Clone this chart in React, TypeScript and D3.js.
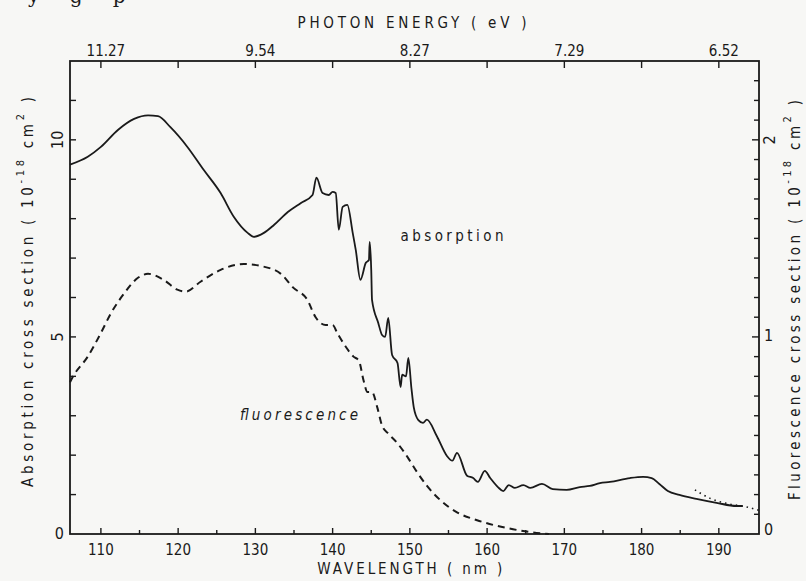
import * as d3 from 'd3';

// absorption cross section (10^-18 cm^2), solid line
const absWavelength = [
	106.0, 108.3, 110.0, 112.2, 114.3, 116.1, 117.4, 119.0, 121.2, 123.3, 125.5, 127.2, 129.0, 129.8,
	131.1, 132.4, 134.2, 135.9, 137.4, 137.9, 138.7, 139.5, 140.0, 140.4, 140.8, 141.3, 141.9, 142.6,
	143.0, 143.6, 144.3, 144.7, 144.8, 145.0, 145.1, 145.9, 146.4, 146.8, 147.2, 147.7, 148.4, 148.8,
	149.0, 149.5, 149.8, 150.2, 150.5, 151.1, 151.7, 152.2, 153.5, 154.8, 155.5, 156.1, 157.4, 158.2,
	158.8, 159.7, 160.4, 161.4, 162.1, 162.8, 163.6, 164.7, 165.6, 167.1, 168.5, 170.3, 172.0, 173.3,
	174.6, 175.9, 178.5, 180.2, 181.3, 182.3, 183.4, 184.9, 187.1, 189.7, 192.3, 193.1,
];
const absValue = [
	9.37, 9.57, 9.82, 10.25, 10.53, 10.62, 10.6, 10.32, 9.82, 9.24, 8.65, 8.05, 7.64, 7.54,
	7.64, 7.84, 8.17, 8.4, 8.6, 9.04, 8.65, 8.6, 8.68, 8.65, 7.72, 8.3, 8.35, 7.64,
	7.2, 6.45, 6.88, 6.95, 7.41, 6.7, 5.94, 5.36, 5.05, 5.0, 5.48, 4.54, 4.34, 3.73,
	4.04, 4.0, 4.47, 3.7, 3.22, 2.89, 2.82, 2.9, 2.48, 1.98, 1.86, 2.06, 1.48, 1.42,
	1.32, 1.6, 1.42, 1.19, 1.09, 1.24, 1.17, 1.24, 1.17, 1.27, 1.14, 1.12, 1.19, 1.22,
	1.29, 1.32, 1.42, 1.45, 1.42, 1.27, 1.09, 0.99, 0.89, 0.79, 0.71, 0.71,
];

// dotted extension of the absorption curve
const absDotWavelength = [186.9, 188.8, 191.4, 193.5, 195.2];
const absDotValue = [1.12, 0.91, 0.76, 0.69, 0.6];

// fluorescence cross section (10^-18 cm^2), dashed line, right axis
const fluWavelength = [
	106.0, 106.4, 108.3, 110.0, 111.3, 113.0, 114.8, 116.1, 118.1, 119.9, 121.0, 122.9, 125.5, 128.5,
	130.7, 133.3, 134.9, 136.7, 137.8, 139.1, 140.0, 140.6, 141.7, 142.7, 143.4, 144.0, 144.5, 145.1,
	145.8, 146.4, 147.2, 148.4, 149.7, 151.0, 152.3, 154.0, 156.1, 158.7, 160.8, 162.6, 165.6, 168.0,
];
const fluValue = [
	0.77, 0.8, 0.9, 1.02, 1.12, 1.22, 1.3, 1.32, 1.29, 1.24, 1.23, 1.28, 1.34, 1.37,
	1.36, 1.32, 1.25, 1.19, 1.1, 1.06, 1.06, 1.02, 0.95, 0.9, 0.88, 0.78, 0.72, 0.72,
	0.64, 0.55, 0.51, 0.46, 0.39, 0.31, 0.24, 0.17, 0.11, 0.07, 0.046, 0.03, 0.01, 0.0,
];

const bottomTicks = [110, 120, 130, 140, 150, 160, 170, 180, 190];
const topTickWavelength = [110, 130, 150, 170, 190];
const topTickLabels = ['11.27', '9.54', '8.27', '7.29', '6.52'];
const leftLabels = [0, 5, 10];
const rightLabels = [0, 1, 2];

const svgWidth = 806,
	svgHeight = 581;
const margin = { left: 70, right: 47, top: 61, bottom: 47 };
const innerWidth = svgWidth - margin.left - margin.right;
const innerHeight = svgHeight - margin.top - margin.bottom;

const font = "'Liberation Sans Narrow', 'DejaVu Sans Condensed', 'Liberation Sans', sans-serif";
const ink = '#1a1a1a';

export default function App() {
	const xScale = d3.scaleLinear().domain([106, 195.2]).range([0, innerWidth]);
	const yLeft = d3.scaleLinear().domain([0, 12]).range([innerHeight, 0]);
	const yRight = d3.scaleLinear().domain([0, 2.4]).range([innerHeight, 0]);

	const absLine = d3
		.line<number>()
		.x((d, i) => xScale(absWavelength[i]))
		.y((d) => yLeft(d))
		.curve(d3.curveMonotoneX);
	const dotLine = d3
		.line<number>()
		.x((d, i) => xScale(absDotWavelength[i]))
		.y((d) => yLeft(d))
		.curve(d3.curveMonotoneX);
	const fluLine = d3
		.line<number>()
		.x((d, i) => xScale(fluWavelength[i]))
		.y((d) => yRight(d))
		.curve(d3.curveMonotoneX);

	const minorBottom = d3.range(110, 195, 5);
	const leftTicks = d3.range(1, 12, 1);
	const rightTicks = d3.range(1, 24, 1).map((d) => d / 10);

	return (
		<svg
			width={svgWidth}
			height={svgHeight}
			viewBox={`0 0 ${svgWidth} ${svgHeight}`}
			style={{ position: 'absolute', left: 0, top: 0 }}
			fontFamily={font}
		>
			<rect width={svgWidth} height={svgHeight} fill="#f7f7f5" />
			{/* cut-off line of the scanned page above the figure */}
			<text x={28} y={3} fontFamily="'DejaVu Serif', serif" fontSize={20} fill={ink} letterSpacing={12}>
				y g p
			</text>
			<text
				x={412}
				y={28}
				textAnchor="middle"
				fontSize={15}
				fill={ink}
				textLength={229}
				lengthAdjust="spacing"
			>
				PHOTON ENERGY ( eV )
			</text>

			<g transform={`translate(${margin.left}, ${margin.top})`}>
				{/* frame */}
				<rect width={innerWidth} height={innerHeight} fill="none" stroke={ink} strokeWidth={1.8} />

				{/* bottom axis */}
				{minorBottom.map((d) => (
					<line
						key={'b' + d}
						x1={xScale(d)}
						x2={xScale(d)}
						y1={innerHeight}
						y2={innerHeight - (d % 10 === 0 ? 6 : 4)}
						stroke={ink}
						strokeWidth={1.4}
					/>
				))}
				{bottomTicks.map((d) => (
					<text
						key={'bl' + d}
						x={xScale(d)}
						y={innerHeight + 21}
						textAnchor="middle"
						fontSize={15}
						fill={ink}
					>
						{d}
					</text>
				))}
				<text
					x={xScale(150)}
					y={innerHeight + 40}
					textAnchor="middle"
					fontSize={15}
					fill={ink}
					textLength={185}
					lengthAdjust="spacing"
				>
					WAVELENGTH ( nm )
				</text>

				{/* top axis */}
				{bottomTicks.map((d) => (
					<line
						key={'t' + d}
						x1={xScale(d)}
						x2={xScale(d)}
						y1={0}
						y2={7}
						stroke={ink}
						strokeWidth={1.4}
					/>
				))}
				{topTickWavelength.map((d, i) => (
					<text
						key={'tl' + d}
						x={xScale(d) + 5}
						y={-5}
						textAnchor="middle"
						fontSize={15}
						fill={ink}
					>
						{topTickLabels[i]}
					</text>
				))}

				{/* left axis */}
				{leftTicks.map((d) => (
					<line
						key={'l' + d}
						x1={0}
						x2={6}
						y1={yLeft(d)}
						y2={yLeft(d)}
						stroke={ink}
						strokeWidth={1.4}
					/>
				))}
				{leftLabels.map((d) =>
					d === 0 ? (
						<text
							key={'ll' + d}
							x={-6}
							y={yLeft(d)}
							textAnchor="end"
							dominantBaseline="middle"
							fontSize={16}
							fill={ink}
						>
							{d}
						</text>
					) : (
						<text
							key={'ll' + d}
							transform={`translate(-12, ${yLeft(d)}) rotate(-90)`}
							textAnchor="middle"
							dominantBaseline="middle"
							fontSize={16}
							fill={ink}
						>
							{d}
						</text>
					),
				)}
				<text
					transform={`translate(${28 - margin.left}, ${292 - margin.top}) rotate(-90)`}
					textAnchor="middle"
					dominantBaseline="middle"
					fontSize={15}
					fill={ink}
					textLength={390}
					lengthAdjust="spacing"
				>
					Absorption cross section ( 10
					<tspan fontSize={11} dy={-7}>
						-18
					</tspan>
					<tspan dy={7}> cm</tspan>
					<tspan fontSize={11} dy={-7}>
						2
					</tspan>
					<tspan dy={7}> )</tspan>
				</text>

				{/* right axis */}
				{rightTicks.map((d) => (
					<line
						key={'r' + d}
						x1={innerWidth}
						x2={innerWidth - (Math.abs(d - Math.round(d)) < 0.01 ? 7 : 5)}
						y1={yRight(d)}
						y2={yRight(d)}
						stroke={ink}
						strokeWidth={1.4}
					/>
				))}
				{rightLabels.map((d) =>
					d === 2 ? (
						<text
							key={'rl' + d}
							transform={`translate(${innerWidth + 11}, ${yRight(d)}) rotate(-90)`}
							textAnchor="middle"
							dominantBaseline="middle"
							fontSize={16}
							fill={ink}
						>
							{d}
						</text>
					) : (
						<text
							key={'rl' + d}
							x={innerWidth + 5}
							y={yRight(d) - (d === 0 ? 4 : 0)}
							dominantBaseline="middle"
							fontSize={16}
							fill={ink}
						>
							{d}
						</text>
					),
				)}
				<text
					transform={`translate(${795 - margin.left}, ${300 - margin.top}) rotate(-90)`}
					textAnchor="middle"
					dominantBaseline="middle"
					fontSize={15}
					fill={ink}
					textLength={400}
					lengthAdjust="spacing"
				>
					Fluorescence cross section ( 10
					<tspan fontSize={11} dy={-7}>
						-18
					</tspan>
					<tspan dy={7}> cm</tspan>
					<tspan fontSize={11} dy={-7}>
						2
					</tspan>
					<tspan dy={7}> )</tspan>
				</text>

				{/* curves */}
				<path d={absLine(absValue)!} fill="none" stroke={ink} strokeWidth={1.8} />
				<path
					d={dotLine(absDotValue)!}
					fill="none"
					stroke={ink}
					strokeWidth={1.6}
					strokeDasharray="1.5,4"
				/>
				<path
					d={fluLine(fluValue)!}
					fill="none"
					stroke={ink}
					strokeWidth={2}
					strokeDasharray="7,5"
				/>

				{/* curve labels */}
				<text
					x={452 - margin.left}
					y={241 - margin.top}
					textAnchor="middle"
					fontSize={15}
					fill={ink}
					textLength={103}
					lengthAdjust="spacing"
				>
					absorption
				</text>
				<text
					x={299 - margin.left}
					y={420 - margin.top}
					textAnchor="middle"
					fontSize={15}
					fontStyle="italic"
					fill={ink}
					textLength={118}
					lengthAdjust="spacing"
				>
					fluorescence
				</text>
			</g>
		</svg>
	);
}
